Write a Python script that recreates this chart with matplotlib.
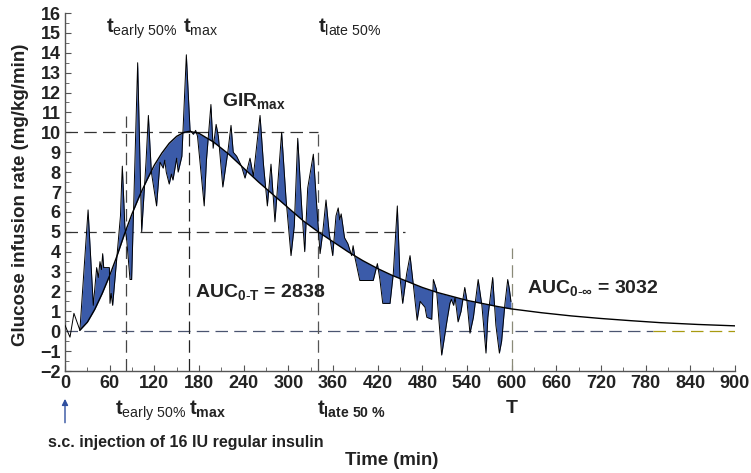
import numpy as np
import matplotlib
matplotlib.use("Agg")
import matplotlib.pyplot as plt

# ---------- Data ----------

raw_t = [0, 6.7, 12, 20, 31, 38, 42.5, 44.7, 47, 49, 50.6, 52, 59.6, 60.4, 62, 64,
         74.5, 76, 77, 80.5, 82.9, 87.3, 89.5, 97.6, 103, 108.8, 112, 116, 123,
         127.6, 131.9, 134, 136, 140, 143, 145, 150, 152, 157, 163, 168, 172.4,
         175.5, 178, 187, 190, 196, 199, 203, 206, 212, 219, 223, 226, 230.6, 237,
         241.8, 248.5, 253, 262, 266.6, 271.8, 276.7, 282, 291, 297, 303.6, 308,
         312.6, 318, 322, 326, 333.6, 337.6, 342.6, 346, 350.6, 355, 359.6, 364,
         367, 369, 371, 375.5, 380, 385, 387, 389.5, 396, 414, 419.6, 423, 426.8,
         436.6, 441, 446.4, 450, 453.6, 459, 463.5, 468, 473, 477, 483.6, 486,
         492.6, 494.8, 499, 506, 513, 517, 519, 522, 524, 528, 532, 537, 539.7,
         544, 548.6, 555, 560, 565.5, 568, 574.5, 578.8, 583.5, 586.5, 591, 594.7,
         597, 599]
raw_gir = [0.3, -0.3, 0.9, 0.05, 6.1, 1.3, 3.2, 2.7, 3.5, 3.1, 3.9, 3.2, 3.2, 1.4, 1.9, 1.3,
           5.8, 7.4, 8.3, 5.2, 4.6, 2.6, 2.6, 13.5, 5.0, 8.5, 10.85, 8.0, 6.3,
           8.5, 8.2, 8.6, 8.0, 7.4, 7.9, 7.6, 8.7, 8.0, 8.8, 13.9, 10.1, 9.9,
           10.1, 9.8, 6.3, 8.6, 11.4, 9.2, 10.4, 9.8, 7.25, 9.1, 10.35, 9.0, 8.8, 8.3,
           7.7, 8.7, 7.8, 10.85, 8.4, 6.3, 8.4, 5.5, 10.0, 6.6, 3.8, 5.3,
           9.7, 6.2, 4.0, 7.2, 8.9, 6.6, 3.9, 4.9, 6.6, 4.9, 3.8, 5.8,
           6.2, 5.6, 5.9, 4.7, 4.4, 3.8, 4.3, 3.7, 2.55, 2.55, 3.4, 2.6, 1.4,
           1.4, 2.9, 6.3, 2.7, 1.4, 2.9, 3.8, 2.3, 0.55, 1.5, 1.2, 0.7,
           0.6, 2.6, 2.1, -1.2, 0.5, 1.4, 1.6, 1.3, 1.7, 0.47, 1.0, 2.2, 1.6,
           -0.1, 0.7, 2.6, 1.3, -1.1, 0.7, 2.7, 0.3, -1.1, -0.5, 1.4, 2.6,
           2.1, 1.5]

fit_t = [20, 30, 40, 50, 60, 70, 80, 90, 100, 110, 120, 130, 140, 150, 160, 167,
         180, 200, 220, 240, 260, 280, 300, 320, 340, 360, 380, 400, 420, 440, 460,
         480, 500, 520, 540, 560, 580, 600, 640, 680, 720, 760, 800, 850, 900]
fit_gir = [0.05, 0.45, 1.1, 1.9, 2.8, 3.8, 4.9, 5.9, 6.8, 7.6, 8.35, 8.95, 9.45, 9.8, 10.0, 10.05,
           9.95, 9.5, 8.9, 8.2, 7.5, 6.85, 6.2, 5.55, 5.0, 4.5, 4.0, 3.55, 3.15, 2.8, 2.5,
           2.2, 1.95, 1.75, 1.55, 1.4, 1.25, 1.12, 0.93, 0.77, 0.64, 0.53, 0.43, 0.34, 0.27]

t_early = 81.5
t_max = 167
t_late = 339.5
T_end = 600
gir_max = 10
gir_half = 5
auc_0T = 2838
auc_inf = 3032

# ---------- Style ----------

plt.rcParams["font.family"] = ["Liberation Sans", "DejaVu Sans"]
plt.rcParams["mathtext.fontset"] = "custom"
plt.rcParams["mathtext.rm"] = "Liberation Sans:weight=normal"
plt.rcParams["mathtext.bf"] = "Liberation Sans:weight=bold"
plt.rcParams["mathtext.it"] = "Liberation Sans:italic"

fill_color = "#3b5ba9"
dash_color = "#333333"
txt_color = "#222222"

fig = plt.figure(figsize=(7.51, 4.73), dpi=100)
ax = fig.add_axes([65 / 751, 102 / 473, 670 / 751, 358 / 473])

raw_t = np.array(raw_t)
raw_gir = np.array(raw_gir)
fit_on_raw = np.interp(raw_t, fit_t, fit_gir)

# ---------- Reference lines ----------

dash = (0, (10, 5))
ax.plot([0, t_late], [gir_max, gir_max], color=dash_color, lw=0.9, ls=dash)
ax.plot([0, 457], [gir_half, gir_half], color=dash_color, lw=0.9, ls=dash)
ax.plot([0, 790], [0, 0], color="#4a5470", lw=0.9, ls=dash)
ax.plot([790, 900], [0, 0], color="#a89a10", lw=0.9, ls=dash)
ax.plot([t_early, t_early], [-2, 10.8], color="#444444", lw=0.9, ls=dash)
ax.plot([t_max, t_max], [-2, 10], color="#222222", lw=0.9, ls=dash)
ax.plot([t_late, t_late], [-2, 9.9], color="#555555", lw=0.9, ls=dash)
ax.plot([T_end, T_end], [-2, 4.2], color="#8a8a78", lw=0.9, ls=dash)

# ---------- Curves ----------

mask = raw_t >= 20
ax.fill_between(raw_t[mask], raw_gir[mask], fit_on_raw[mask], color=fill_color,
                interpolate=True, lw=0, zorder=2)
ax.plot(raw_t, raw_gir, color="black", lw=0.7, zorder=3)
ax.plot(fit_t, fit_gir, color="black", lw=1.0, zorder=4)

# ---------- Axes ----------

ax.set_xlim(0, 900)
ax.set_ylim(-2, 16)
ax.set_xticks(np.arange(0, 901, 60))
ax.set_xticks(np.arange(0, 901, 30), minor=True)
ax.set_yticks(np.arange(-2, 17, 1))
ax.set_yticks(np.arange(-2, 16.1, 0.5), minor=True)
ax.set_yticklabels([f"{v}".replace("-", "\u2212") for v in range(-2, 17)])
for side in ["top", "right"]:
    ax.spines[side].set_visible(False)
for side in ["left", "bottom"]:
    ax.spines[side].set_color("#555555")
    ax.spines[side].set_linewidth(1.0)
ax.tick_params(axis="both", which="both", direction="in", color="#555555")
ax.tick_params(axis="both", which="major", length=4, labelsize=13, pad=3)
ax.tick_params(axis="both", which="minor", length=3)
for lab in ax.get_xticklabels() + ax.get_yticklabels():
    lab.set_fontweight("bold")
    lab.set_color(txt_color)

fig.text(0.027, 0.588, "Glucose infusion rate (mg/kg/min)", rotation=90,
         ha="center", va="center", fontsize=13.5, fontweight="bold", color=txt_color)
fig.text(0.522, 0.017, "Time (min)", ha="center", va="baseline",
         fontsize=13.4, fontweight="bold", color=txt_color)
fig.text(0.064, 0.056, "s.c. injection of 16 IU regular insulin", ha="left",
         va="baseline", fontsize=11.5, fontweight="bold", color=txt_color)

# ---------- Annotations ----------

ann = dict(fontsize=14.5, color=txt_color, va="baseline", ha="left")
ax.text(55, 15.0, r"$\mathbf{t}_{\mathrm{early\ 50\%}}$", **ann)
ax.text(158.5, 15.0, r"$\mathbf{t}_{\mathrm{max}}$", **ann)
ax.text(340, 15.0, r"$\mathbf{t}_{\mathrm{late\ 50\%}}$", **ann)

big = dict(fontsize=14, fontweight="bold", color=txt_color, va="baseline", ha="left")
ax.text(211, 11.3, r"$\mathbf{GIR}_{\mathbf{max}}$", **big)
ax.text(174.6, 1.7, r"$\mathbf{AUC}_{\mathbf{0}\text{-}\mathbf{T}}$ = %d" % auc_0T, **big)
ax.text(620, 1.9, r"$\mathbf{AUC}_{\mathbf{0}\text{-}\mathbf{\infty}}$ = %d" % auc_inf, **big)

ax.text(67, -4.2, r"$\mathbf{t}_{\mathrm{early\ 50\%}}$", **ann)
ax.text(167, -4.2, r"$\mathbf{t}_{\mathbf{max}}$", **ann)
ax.text(338, -4.2, r"$\mathbf{t}_{\mathbf{late\ 50\ \%}}$", **ann)
ax.text(T_end, -4.1, "T", fontsize=14, fontweight="bold", color=txt_color,
        ha="center", va="baseline")

ax.annotate("", xy=(0, -3.4), xytext=(0, -4.6), annotation_clip=False,
            arrowprops=dict(arrowstyle="-|>", color="#2f4f9f", lw=1.0,
                            mutation_scale=9, shrinkA=0, shrinkB=0))

fig.savefig("out.png", dpi=100)
